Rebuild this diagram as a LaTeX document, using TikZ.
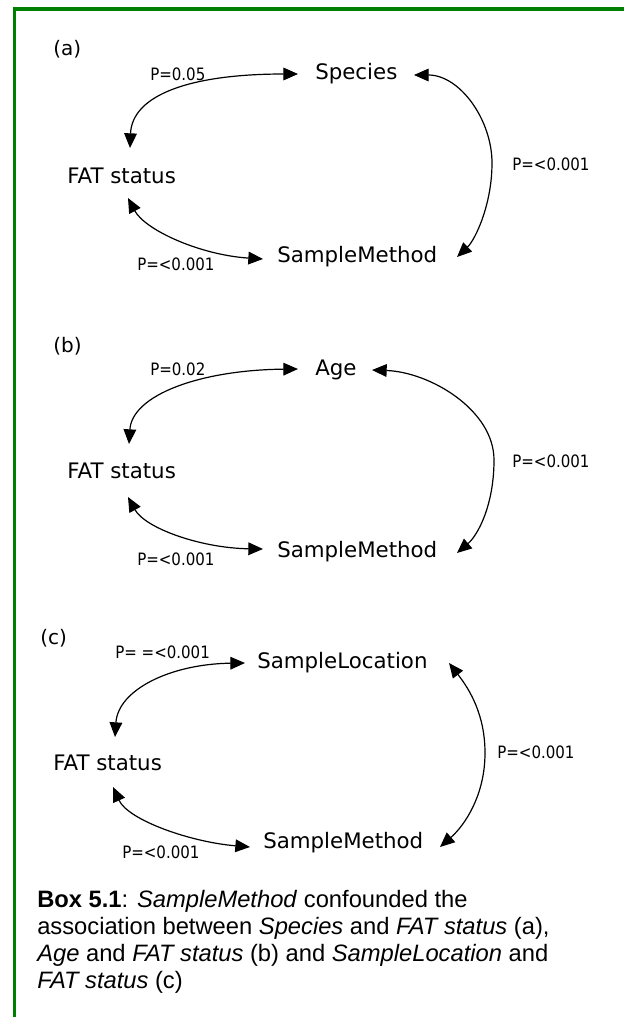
\documentclass[tikz,border=0pt]{standalone}
\usepackage{fontspec}
\setmainfont{Liberation Sans}
\newfontfamily\dfont{DejaVu Sans}
\newfontfamily\pfont[FakeStretch=0.88]{DejaVu Sans}
\usetikzlibrary{arrows.meta}
\definecolor{boxgreen}{RGB}{0,128,0}
\tikzset{
  varnode/.style={font={\dfont\fontsize{16}{19}\selectfont}, inner sep=0pt, anchor=base west},
  plabel/.style={font={\pfont\fontsize{12.8}{15}\selectfont}, inner sep=0pt, anchor=base west},
  panellabel/.style={font={\dfont\fontsize{15}{18}\selectfont}, inner sep=0pt, anchor=base west},
  assoc/.style={line width=0.9pt, {Triangle[length=11pt,width=9.5pt]}-{Triangle[length=11pt,width=9.5pt]}},
  captext/.style={font={\fontsize{17.8}{20.25}\selectfont}, inner sep=0pt, anchor=north west, align=left},
  frame/.style={draw=boxgreen, line width=2.6pt}
}
\begin{document}
\begin{tikzpicture}[x=0.75pt,y=-0.75pt]
\useasboundingbox (0,0) rectangle (624,1017);
\fill[white] (0,0) rectangle (624,1017);
\draw[frame] (14.5,1017) -- (14.5,9) -- (624,9);

% ---------- panel (a)
\node[panellabel] (la) at (53,55) {(a)};
\node[plabel] (pa1) at (150,80) {P=0.05};
\node[varnode] (spA) at (315,79) {Species};
\node[varnode] (fa) at (67,183) {FAT status};
\node[plabel] (pa2) at (137,270) {P=<0.001};
\node[varnode] (smA) at (277,262) {SampleMethod};
\node[plabel] (pa3) at (512,170) {P=<0.001};
\coordinate (ra) at (492,163);
\draw[assoc] ([shift={(-17,-5)}]spA.base west) .. controls +(-108,0) and +(2,-53) .. ([shift={(63,-35)}]fa.base west);
\draw[assoc] ([shift={(61,15)}]fa.base west) .. controls +(17,32) and +(-63,-4) .. ([shift={(-14,-3)}]smA.base west);
\draw[assoc] ([shift={(99,-4)}]spA.base west) .. controls +(46,0) and +(0,-43) .. (ra) .. controls +(0,42) and +(18,-17) .. ([shift={(180,-5)}]smA.base west);

% ---------- panel (b)
\node[panellabel] (lb) at (53,352) {(b)};
\node[plabel] (pb1) at (150,375) {P=0.02};
\node[varnode] (ageB) at (315,375) {Age};
\node[varnode] (fb) at (67,478) {FAT status};
\node[plabel] (pb2) at (137,565) {P=<0.001};
\node[varnode] (smB) at (277,557) {SampleMethod};
\node[plabel] (pb3) at (512,467) {P=<0.001};
\coordinate (rb) at (494,460);
\draw[assoc] ([shift={(-17,-6)}]ageB.base west) .. controls +(-98,1) and +(3,-49) .. ([shift={(62,-34)}]fb.base west);
\draw[assoc] ([shift={(61,19)}]fb.base west) .. controls +(17,31) and +(-63,-1) .. ([shift={(-14,-8)}]smB.base west);
\draw[assoc] ([shift={(57,-5)}]ageB.base west) .. controls +(58,2) and +(0,-50) .. (rb) .. controls +(0,45) and +(21,-18) .. ([shift={(180,-4)}]smB.base west);

% ---------- panel (c)
\node[panellabel] (lc) at (40,644) {(c)};
\node[plabel] (pc1) at (115,658) {P= =<0.001};
\node[varnode] (slC) at (257,668) {SampleLocation};
\node[varnode] (fc) at (53,770) {FAT status};
\node[plabel] (pc2) at (122,858) {P=<0.001};
\node[varnode] (smC) at (263,848) {SampleMethod};
\node[plabel] (pc3) at (497,758) {P=<0.001};
\coordinate (rc) at (485,753);
\draw[assoc] ([shift={(-12,-5)}]slC.base west) .. controls +(-75,1) and +(3,-47) .. ([shift={(62,-33)}]fc.base west);
\draw[assoc] ([shift={(60,17)}]fc.base west) .. controls +(15,33) and +(-60,-5) .. ([shift={(-13,-1)}]smC.base west);
\draw[assoc] ([shift={(192,-5)}]slC.base west) .. controls +(21,27) and +(0,-38) .. (rc) .. controls +(0,42) and +(25,-22) .. ([shift={(177,-1)}]smC.base west);

% ---------- caption
\node[captext] (cap) at (37,889.7) {\textbf{Box 5.1}: \textit{SampleMethod} confounded the\\
association between \textit{Species} and \textit{FAT status} (a),\\
\textit{Age} and \textit{FAT status} (b) and \textit{SampleLocation} and\\
\textit{FAT status} (c)};
\end{tikzpicture}
\end{document}
